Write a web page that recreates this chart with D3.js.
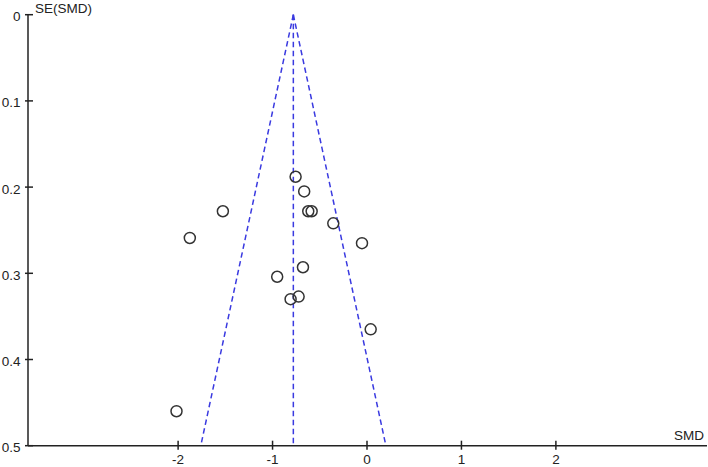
<!DOCTYPE html>
<html><head><meta charset="utf-8">
<script src="https://cdn.jsdelivr.net/npm/d3@7"></script>
<style>body{margin:0;background:#fff}svg{display:block}text{font-family:"Liberation Sans",Arial,sans-serif;font-size:13.5px;fill:#222}</style>
</head><body>
<svg id="c" width="708" height="467"></svg>
<script>
const smd = [-0.756,-0.665,-1.526,-0.622,-0.586,-0.357,-1.876,-0.053,-0.678,-0.951,-0.724,-0.809,0.039,-2.017];
const se  = [0.188,0.205,0.228,0.228,0.228,0.242,0.259,0.265,0.293,0.304,0.327,0.330,0.365,0.460];
const pooled = -0.78;
const xTicks = [-2,-1,0,1,2];
const yTicks = [0,0.1,0.2,0.3,0.4,0.5];

const svg = d3.select("#c");
const x = d3.scaleLinear().domain([-3.6,3.6]).range([27,707]);
const y = d3.scaleLinear().domain([0,0.5]).range([14.7,445.7]);

// axes
const ax = svg.append("g").attr("stroke","#222").attr("stroke-width",1.5);
ax.append("line").attr("x1",x(-3.6)+1).attr("x2",x(-3.6)+1).attr("y1",y(0)).attr("y2",y(0.5));
ax.append("line").attr("x1",x(-3.6)+1).attr("x2",x(3.6)).attr("y1",y(0.5)).attr("y2",y(0.5));
ax.selectAll(".yt").data(yTicks).join("line").attr("x1",x(-3.6)-2).attr("x2",x(-3.6)+6).attr("y1",d=>y(d)).attr("y2",d=>y(d));
ax.selectAll(".xt").data(xTicks).join("line").attr("x1",d=>x(d)).attr("x2",d=>x(d)).attr("y1",y(0.5)-5).attr("y2",y(0.5)+4);
svg.selectAll(".yl").data(yTicks).join("text").attr("x",20.5).attr("y",d=>y(d)+6.5).attr("text-anchor","end").text(d=>d3.format("")(d));
svg.selectAll(".xl").data(xTicks).join("text").attr("x",d=>x(d)).attr("y",463.5).attr("text-anchor","middle").text(d=>d);
svg.append("text").attr("x",35).attr("y",12.5).text("SE(SMD)");
svg.append("text").attr("x",704).attr("y",440).attr("text-anchor","end").text("SMD");

// funnel
const fl = svg.append("g").attr("stroke","#3a3ae0").attr("stroke-width",1.5).attr("stroke-dasharray","5.5,3.5").attr("fill","none");
fl.append("line").attr("x1",x(pooled)).attr("x2",x(pooled)).attr("y1",y(0)).attr("y2",y(0.5));
fl.append("line").attr("x1",x(pooled)).attr("y1",y(0)).attr("x2",x(pooled-1.96*0.5)).attr("y2",y(0.5));
fl.append("line").attr("x1",x(pooled)).attr("y1",y(0)).attr("x2",x(pooled+1.96*0.5)).attr("y2",y(0.5));

// points
svg.selectAll(".pt").data(smd.map((d,i)=>[d,se[i]])).join("circle")
  .attr("cx",d=>x(d[0])).attr("cy",d=>y(d[1])).attr("r",5.5)
  .attr("fill","none").attr("stroke","#333").attr("stroke-width",1.5);
</script>
</body></html>
